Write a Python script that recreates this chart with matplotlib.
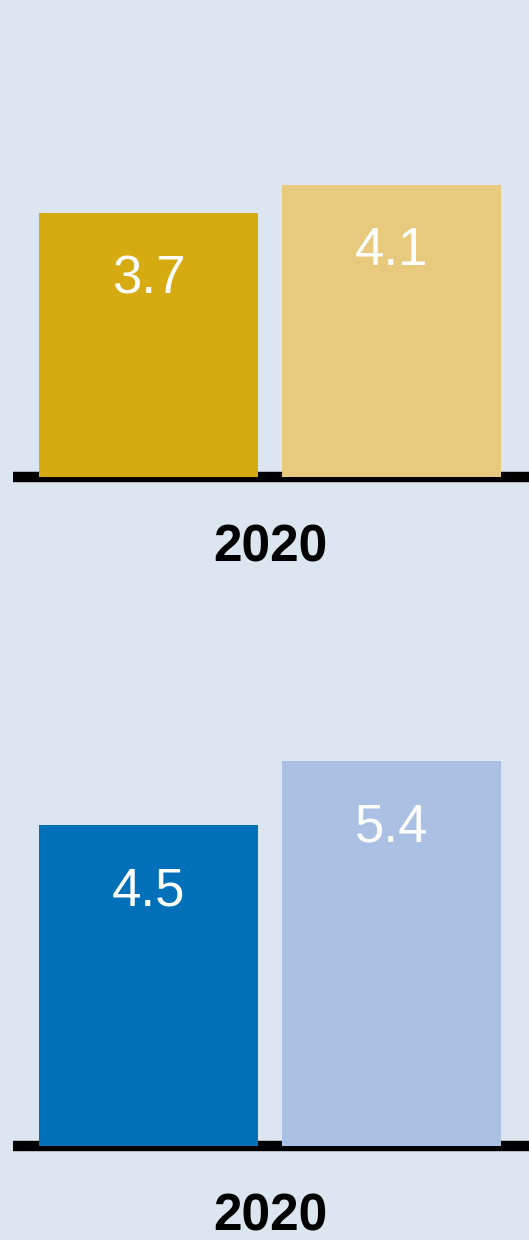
import matplotlib
matplotlib.use("Agg")
import matplotlib.pyplot as plt

plt.rcParams['font.family'] = ['Liberation Sans', 'DejaVu Sans']

year_label = "2020"
top_values = [3.7, 4.1]
top_colors = ["#d6ab12", "#e8ca7f"]
bottom_values = [4.5, 5.4]
bottom_colors = ["#0070b9", "#aac1e4"]

BG = "#dce6f0"
W, H = 529, 1240
PX_PER_UNIT = 71.3
YMAX = 6.0


def draw_panel(fig, baseline_px, values, colors):
    # baseline_px: distance of the zero line from the top of the figure
    height_px = YMAX * PX_PER_UNIT
    ax = fig.add_axes([13 / W, (H - baseline_px) / H, (W - 13) / W, height_px / H])
    ax.set_facecolor(BG)
    ax.set_xlim(-0.558, 1.566)
    ax.set_ylim(0, YMAX)
    ax.axis("off")

    xs = list(range(len(values)))
    ax.axhline(0, color="black", linewidth=7.5, zorder=1, clip_on=False,
               solid_capstyle="butt")
    ax.bar(xs, values, width=0.905, color=colors, zorder=2)

    for x, v in zip(xs, values):
        ax.annotate(f"{v:.1f}", xy=(x, v), xytext=(0, -58), textcoords="offset points",
                    ha="center", va="baseline", color="white", fontsize=38, zorder=3)

    ax.annotate(year_label, xy=(0.5, 0), xytext=(0, -61), textcoords="offset points",
                ha="center", va="baseline", color="black", fontsize=37,
                fontweight="bold", annotation_clip=False)
    return ax


fig = plt.figure(figsize=(W / 100, H / 100), dpi=100, facecolor=BG)
draw_panel(fig, 477, top_values, top_colors)
draw_panel(fig, 1146, bottom_values, bottom_colors)
fig.savefig("out.png", dpi=100, facecolor=BG)
